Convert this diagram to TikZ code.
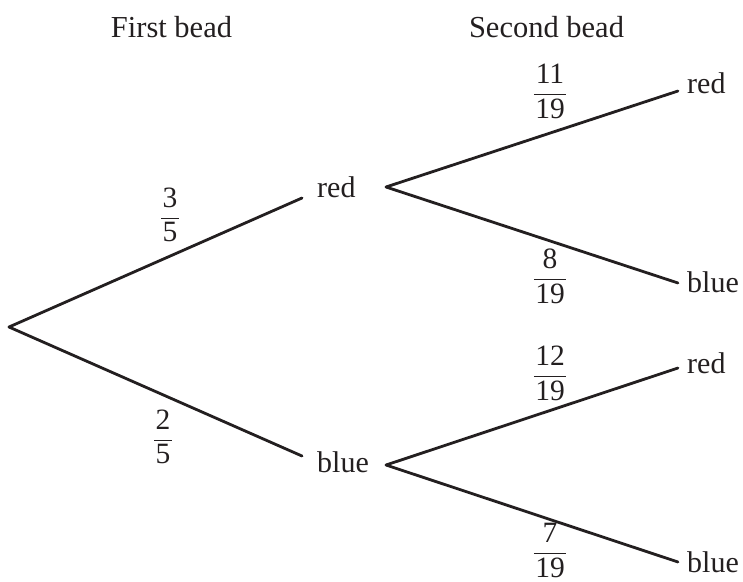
\documentclass[tikz,border=0pt]{standalone}
\usepackage{amsmath}
\usepackage{fontspec}
\setmainfont{Liberation Serif}
\definecolor{ink}{HTML}{231F20}
\newcommand{\bfr}[2]{$\genfrac{}{}{1.2pt}{0}{\mbox{\kern1.5pt#1\kern1.5pt}}{\mbox{\kern1.5pt#2\kern1.5pt}}$}
\begin{document}
\begin{tikzpicture}[x=1pt,y=-1pt,
  lbl/.style={anchor=base west,inner sep=0pt,text=ink,font=\fontsize{30}{36}\selectfont},
  head/.style={anchor=base,inner sep=0pt,text=ink,font=\fontsize{30.5}{36}\selectfont},
  prob/.style={anchor=base,inner sep=0pt,text=ink,font=\fontsize{29.5}{34}\selectfont},
  branch/.style={draw=ink,line width=2.8pt,line cap=round}]
\useasboundingbox (0,0) rectangle (743,581);
% headers
\node[head] (h1) at (171.5,37) {First bead};
\node[head] (h2) at (546.5,37) {Second bead};
% first level
\coordinate (root) at (9,327);
\coordinate (r1end) at (302,198);
\coordinate (b1end) at (302,456);
\node[lbl] (red1) at (317,197) {red};
\node[lbl] (blue1) at (317,472) {blue};
\draw[branch] (root) -- (r1end);
\draw[branch] (root) -- (b1end);
% second level from red
\coordinate (r1start) at (386,187);
\coordinate (rr) at (678,91);
\coordinate (rb) at (678,283);
\node[lbl] (red2a) at (687,93) {red};
\node[lbl] (blue2a) at (687,292) {blue};
\draw[branch] (r1start) -- (rr);
\draw[branch] (r1start) -- (rb);
% second level from blue
\coordinate (b1start) at (386,465);
\coordinate (br) at (678,368);
\coordinate (bb) at (678,562);
\node[lbl] (red2b) at (687,373) {red};
\node[lbl] (blue2b) at (687,572) {blue};
\draw[branch] (b1start) -- (br);
\draw[branch] (b1start) -- (bb);
% probabilities (base placed about axis height below bar)
\node[prob] (p35) at (170,224.5) {\bfr{3}{5}};
\node[prob] (p25) at (163,446.5) {\bfr{2}{5}};
\node[prob] (p1119) at (550,100.5) {\bfr{11}{19}};
\node[prob] (p819) at (550,285.5) {\bfr{8}{19}};
\node[prob] (p1219) at (550,382.5) {\bfr{12}{19}};
\node[prob] (p719) at (550,559.5) {\bfr{7}{19}};
\end{tikzpicture}
\end{document}
